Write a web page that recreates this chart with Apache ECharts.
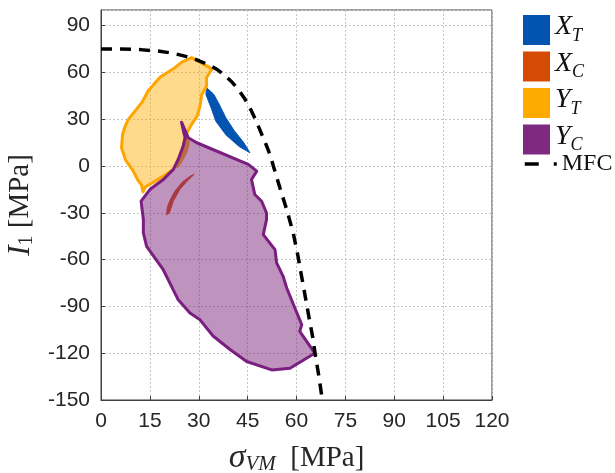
<!DOCTYPE html>
<html><head><meta charset="utf-8">
<script src="https://cdn.jsdelivr.net/npm/echarts@6/dist/echarts.min.js"></script>
<style>html,body{margin:0;padding:0;background:#fff}#c{width:615px;height:473px}</style>
</head><body><div id="c"></div>
<script>
// ---- data ----
const xTicks = [0, 15, 30, 45, 60, 75, 90, 105, 120];
const yTicks = [-150, -120, -90, -60, -30, 0, 30, 60, 90];
const yTop = 100;
const seriesNames = ['X_T', 'X_C', 'Y_T', 'Y_C', 'MFC'];

const XT = [[32.4,50.2],[34.6,46],[36.3,39.5],[38.3,31],[40.9,22.6],[43.8,15],[45.7,8.5],
  [42.4,12.5],[38.4,19.8],[35.3,28.5],[33.8,37.2],[32.2,45.9]];
const XC = [[28.6,-5.3],[26.3,-10],[24.2,-15],[22.2,-22.5],[21,-30],[20.1,-31.3],[20.4,-26],
  [21.2,-22],[22.6,-16.3],[25,-10.2],[27.4,-6.5]];
const YT = [[27.8,69.5],[33.4,63.1],[34,62],[32.4,56.7],[32.4,51.2],[30.9,45.9],[30.4,38.4],
  [29.5,32],[27.8,26.7],[26.4,21.3],[25.4,15],[25,10],[23.7,4.2],[22.2,-2.2],[19.1,-6.5],
  [16,-10.5],[13.6,-13.5],[12.9,-16.6],[12.4,-12],[11.3,-9],[9.8,-3],[7.5,4],[6.3,11.7],
  [6.6,20],[7.4,25.6],[8.4,29.9],[12.5,40.6],[14.5,48.2],[18.1,56.9],[22.2,62.3],[24.8,66.6]];
const YTinside = [[25.6,20],[26.8,18.1],[27.3,15],[26.6,9],[25.1,3],[23.6,-1.5],[22.6,-1],
  [23.9,4.5],[25.3,12.5],[25.8,17]];
const YC = [[24.7,28.1],[26.8,18.1],[29.4,14.9],[45.2,1],[47.8,-3.3],[46.2,-8.7],[47.2,-18.3],
  [49.3,-22.6],[50.8,-30.1],[50.8,-34.4],[49.8,-44],[53.4,-53.6],[53.9,-62.1],[55.9,-70.7],
  [57,-78.2],[59.5,-91],[61.6,-101.7],[61,-106],[65.6,-120],[58,-129.6],[52.4,-130.7],
  [44.7,-125.3],[39.6,-117.6],[34.4,-109],[30.4,-98.6],[27.3,-94.3],[23.7,-85.8],[19.1,-66.5],
  [14,-51.5],[13,-42.9],[13,-34.4],[12.3,-22.5],[15,-15.1],[19.1,-8.7],[22.2,-2.2],[23.7,4.2],
  [25.2,12.7],[25.8,18.1],[25.2,23.4]];
const MFC = [[0,75],[6,75],[12,74.6],[18,73.6],[22,72.3],[26,70.3],[29,68.3],[32,65.8],
  [34,63.8],[36,61.3],[38,58.2],[40,54.2],[42,49.5],[44,43.5],[46,36],[47.8,28],[49.4,20],
  [50.8,13],[52,6.5],[52.9,0],[54.9,-14],[57,-28],[59,-43],[60.3,-56],[61.5,-70],[62.8,-85],
  [64,-99],[65,-110],[65.7,-120],[66.8,-134],[67.8,-148]];

// ---- styles ----
const col = { X_T:'#0353B0', X_C:'#D64B03', Y_T:'#FFAA00', Y_C:'#7E2A80' };
const legendText = { X_T:'{i|X}{s|T}', X_C:'{i|X}{s|C}', Y_T:'{i|Y}{s|T}', Y_C:'{i|Y}{s|C}' };
const serif = 'Liberation Serif';

function polyRenderer(parts) {
  return function (params, api) {
    if (params.dataIndex !== 0) return null;
    return {
      type: 'group',
      children: parts.map(p => ({
        type: 'polygon',
        silent: true,
        shape: { points: p.data.map(v => api.coord(v)) },
        style: { fill: p.fill, stroke: p.stroke || null, lineWidth: p.lw || 0, lineJoin: 'round' }
      }))
    };
  };
}
function polySeries(name, data, parts) {
  return { type: 'custom', name: name, data: data, encode: { x: 0, y: 1 },
    itemStyle: { color: col[name] }, renderItem: polyRenderer(parts), animation: false };
}

const chart = echarts.init(document.getElementById('c'), null, { renderer: 'canvas' });
chart.setOption({
  animation: false,
  backgroundColor: '#fff',
  grid: { left: 101, top: 10, right: 123, bottom: 73, show: true, borderColor: '#404040', borderWidth: 1,
    containLabel: false, outerBoundsMode: 'none' },
  xAxis: {
    type: 'value', min: xTicks[0], max: xTicks[xTicks.length - 1], interval: xTicks[1] - xTicks[0],
    axisLine: { show: true, onZero: false, lineStyle: { color: '#404040', width: 1 } },
    axisTick: { show: true, inside: true, length: 4, lineStyle: { color: '#404040' } },
    axisLabel: { color: '#262626', fontSize: 21, fontFamily: 'Liberation Sans', margin: 11 },
    splitLine: { show: true, lineStyle: { color: '#c4c4c4', type: [2, 2], width: 1 } },
    name: '{s|σ}{sub|VM}{t|  [MPa]}', nameLocation: 'middle', nameGap: 41,
    nameTextStyle: { color: '#262626', rich: {
      s: { fontFamily: serif, fontStyle: 'italic', fontSize: 34, color: '#262626' },
      sub: { fontFamily: serif, fontStyle: 'italic', fontSize: 21, color: '#262626', padding: [13, 0, 0, 0] },
      t: { fontFamily: serif, fontSize: 29, color: '#262626' } } }
  },
  yAxis: {
    type: 'value', min: yTicks[0], max: yTop, interval: yTicks[1] - yTicks[0],
    axisLine: { show: true, onZero: false, lineStyle: { color: '#404040', width: 1 } },
    axisTick: { show: true, inside: true, length: 4, lineStyle: { color: '#404040' } },
    axisLabel: { color: '#262626', fontSize: 21, fontFamily: 'Liberation Sans', margin: 11, showMaxLabel: false },
    splitLine: { show: true, lineStyle: { color: '#c4c4c4', type: [2, 2], width: 1 } },
    name: '{s|I}{sub|1}{t| [MPa]}', nameLocation: 'middle', nameGap: 60, nameRotate: 90,
    nameTextStyle: { color: '#262626', rich: {
      s: { fontFamily: serif, fontStyle: 'italic', fontSize: 31, color: '#262626' },
      sub: { fontFamily: serif, fontSize: 20, color: '#262626', padding: [13, 0, 0, 0] },
      t: { fontFamily: serif, fontSize: 29, color: '#262626' } } }
  },
  legend: [{
    data: seriesNames.slice(0, 4), orient: 'vertical', left: 523, top: 13, padding: 0,
    itemWidth: 27, itemHeight: 30, itemGap: 4.5, icon: 'rect', selectedMode: false,
    formatter: n => legendText[n],
    textStyle: { color: '#111', rich: {
      i: { fontFamily: serif, fontStyle: 'italic', fontSize: 28, color: '#111', padding: [0, 0, 6, 0] },
      s: { fontFamily: serif, fontStyle: 'italic', fontSize: 18, color: '#111', padding: [12, 0, 0, 0] } } }
  }, {
    data: ['MFC'], orient: 'vertical', left: 523, top: 152, padding: 0,
    itemWidth: 32, itemHeight: 16, selectedMode: false,
    itemStyle: { color: 'rgba(0,0,0,0)', borderWidth: 0, opacity: 0 },
    lineStyle: { type: [14, 15, 3, 100], width: 3.5, color: '#000' },
    formatter: () => 'MFC',
    textStyle: { fontFamily: serif, fontSize: 24, color: '#111' }
  }],
  series: [
    polySeries('X_T', XT, [{ data: XT, fill: '#0353B0', stroke: '#0456B5', lw: 1 }]),
    polySeries('X_C', XC, [{ data: XC, fill: '#D64B03', stroke: '#D64B03', lw: 1 }]),
    polySeries('Y_T', YT, [
      { data: YT, fill: 'rgba(255,170,0,0.45)', stroke: '#FFA500', lw: 3 },
      { data: YTinside, fill: '#FFAA00' }]),
    polySeries('Y_C', YC, [{ data: YC, fill: 'rgba(126,42,128,0.5)', stroke: '#7A1F80', lw: 3 }]),
    { type: 'line', name: 'MFC', data: MFC, symbol: 'none', smooth: false, silent: true,
      lineStyle: { color: '#000', width: 3.5, type: [11, 8] }, itemStyle: { color: '#000' } }
  ]
});
</script></body></html>
